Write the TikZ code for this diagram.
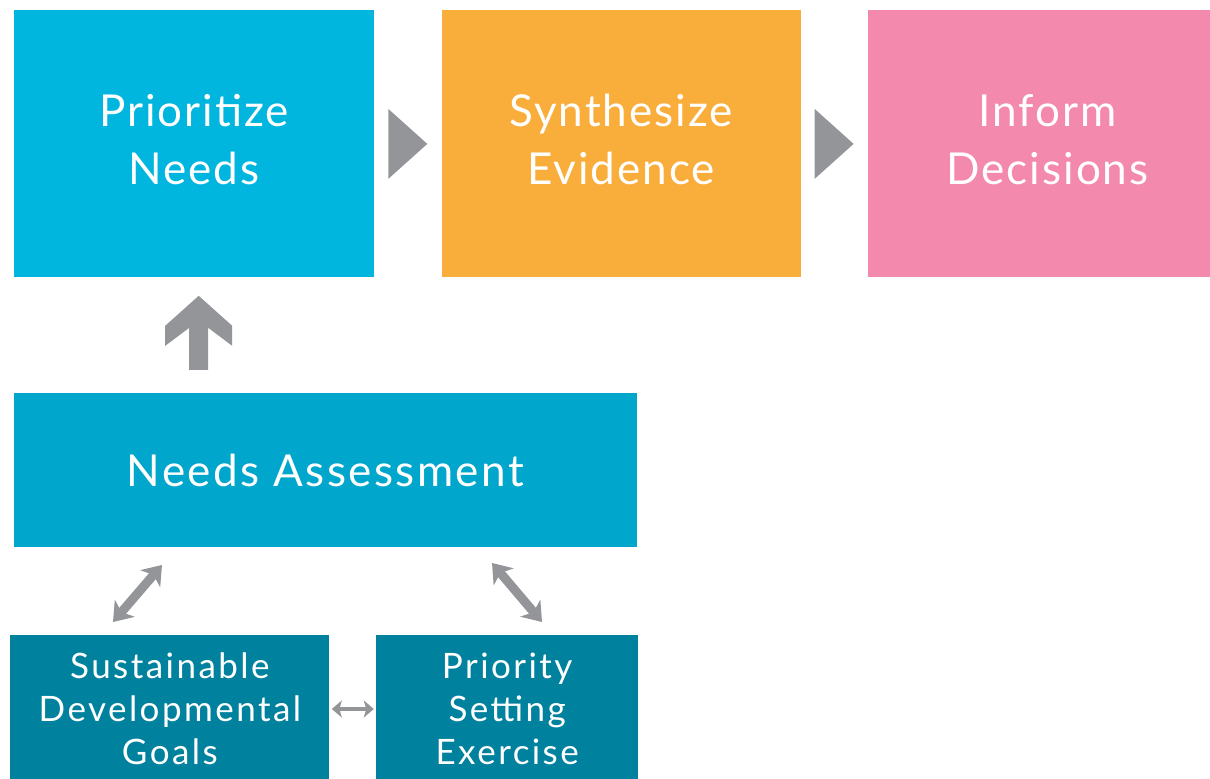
\documentclass[tikz,border=0pt]{standalone}
\usepackage{fontspec}
\setmainfont{Lato}
\usetikzlibrary{positioning,calc,arrows.meta}

\definecolor{prioblue}{HTML}{00B5DE}
\definecolor{synthorange}{HTML}{F9AE3C}
\definecolor{informpink}{HTML}{F38AAE}
\definecolor{needsteal}{HTML}{00A6CB}
\definecolor{darkteal}{HTML}{00819E}
\definecolor{arrowgray}{HTML}{939598}

\begin{document}
\begin{tikzpicture}[>=Stealth]
    \tikzstyle{topbox}=[draw=none,inner sep=0pt,minimum width=180pt,minimum height=133.5pt]
    \tikzstyle{toptext}=[text=white,align=center,inner sep=0pt,yshift=2pt,
        font=\fontsize{22}{29}\selectfont\addfontfeature{LetterSpace=4.5}]
    \tikzstyle{lowbox}=[draw=none,text=white,align=center,inner sep=0pt,
        fill=darkteal,minimum height=74pt,
        font=\fontsize{17.5}{21.5}\selectfont\addfontfeature{LetterSpace=7}]
    \tikzstyle{dblarrow}=[draw=arrowgray,line width=4.5pt,
        {Stealth[length=9pt,width=13pt,inset=2.5pt]}-{Stealth[length=9pt,width=13pt,inset=2.5pt]}]
    \useasboundingbox (0,0) rectangle (605pt,389pt);

    \node[topbox,fill=prioblue,anchor=north west,label={[toptext]center:Prioritize\\Needs}]
        (prio) at (6.75pt,384pt) {};
    \node[topbox,fill=synthorange,minimum width=179.5pt,label={[toptext]center:Synthesize\\Evidence}]
        (synth) [right=33.5pt of prio] {};
    \node[topbox,fill=informpink,label={[toptext]center:Inform\\Decisions}]
        (inform) [right=33pt of synth] {};
    \node[topbox,fill=needsteal,minimum width=311.5pt,minimum height=77pt,text=white,
        font=\fontsize{22}{29}\selectfont\addfontfeature{LetterSpace=5.5}]
        (needs) [below right=57.5pt and 0pt of prio.south west] {Needs Assessment};
    \node[lowbox,minimum width=159.5pt] (sdg) [below right=43.5pt and -1.75pt of needs.south west]
        {Sustainable\\Developmental\\Goals};
    \node[lowbox,minimum width=131pt] (pse) [right=23pt of sdg] {Priority\\Setting\\Exercise};

    % gray triangles between the top boxes
    \coordinate (m1) at ($(prio.east)!0.5!(synth.west)$);
    \coordinate (m2) at ($(synth.east)!0.5!(inform.west)$);
    \fill[arrowgray] ($(m1)+(-9.75pt,17.5pt)$) -- ($(m1)+(9.75pt,0pt)$) -- ($(m1)+(-9.75pt,-17.5pt)$) -- cycle;
    \fill[arrowgray] ($(m2)+(-9.75pt,17.5pt)$) -- ($(m2)+(9.75pt,0pt)$) -- ($(m2)+(-9.75pt,-17.5pt)$) -- cycle;

    % block arrow from needs up to prio
    \coordinate (uptip) at ([xshift=2.4pt,yshift=-9pt]prio.south);
    \fill[arrowgray] (uptip) -- ++(16.75pt,-15pt) -- ++(0pt,-10pt) -- ++(-12pt,9pt)
        -- ++(0pt,-21pt) -- ++(-9.5pt,0pt) -- ++(0pt,21pt) -- ++(-12pt,-9pt)
        -- ++(0pt,10pt) -- cycle;

    % two way arrows
    \coordinate (sdgend) at (56.5pt,78pt);
    \coordinate (needsendl) at (81pt,106.5pt);
    \coordinate (needsendr) at (246pt,107.5pt);
    \coordinate (pseend) at (271pt,78pt);
    \draw[dblarrow] (sdgend) -- (needsendl);
    \draw[dblarrow] (needsendr) -- (pseend);
    \draw[draw=arrowgray,line width=2pt,
        {Stealth[length=5pt,width=8.5pt,inset=1.2pt]}-{Stealth[length=5pt,width=8.5pt,inset=1.2pt]},
        shorten <=1pt,shorten >=1pt] (sdg.east) -- (pse.west);
\end{tikzpicture}
\end{document}
